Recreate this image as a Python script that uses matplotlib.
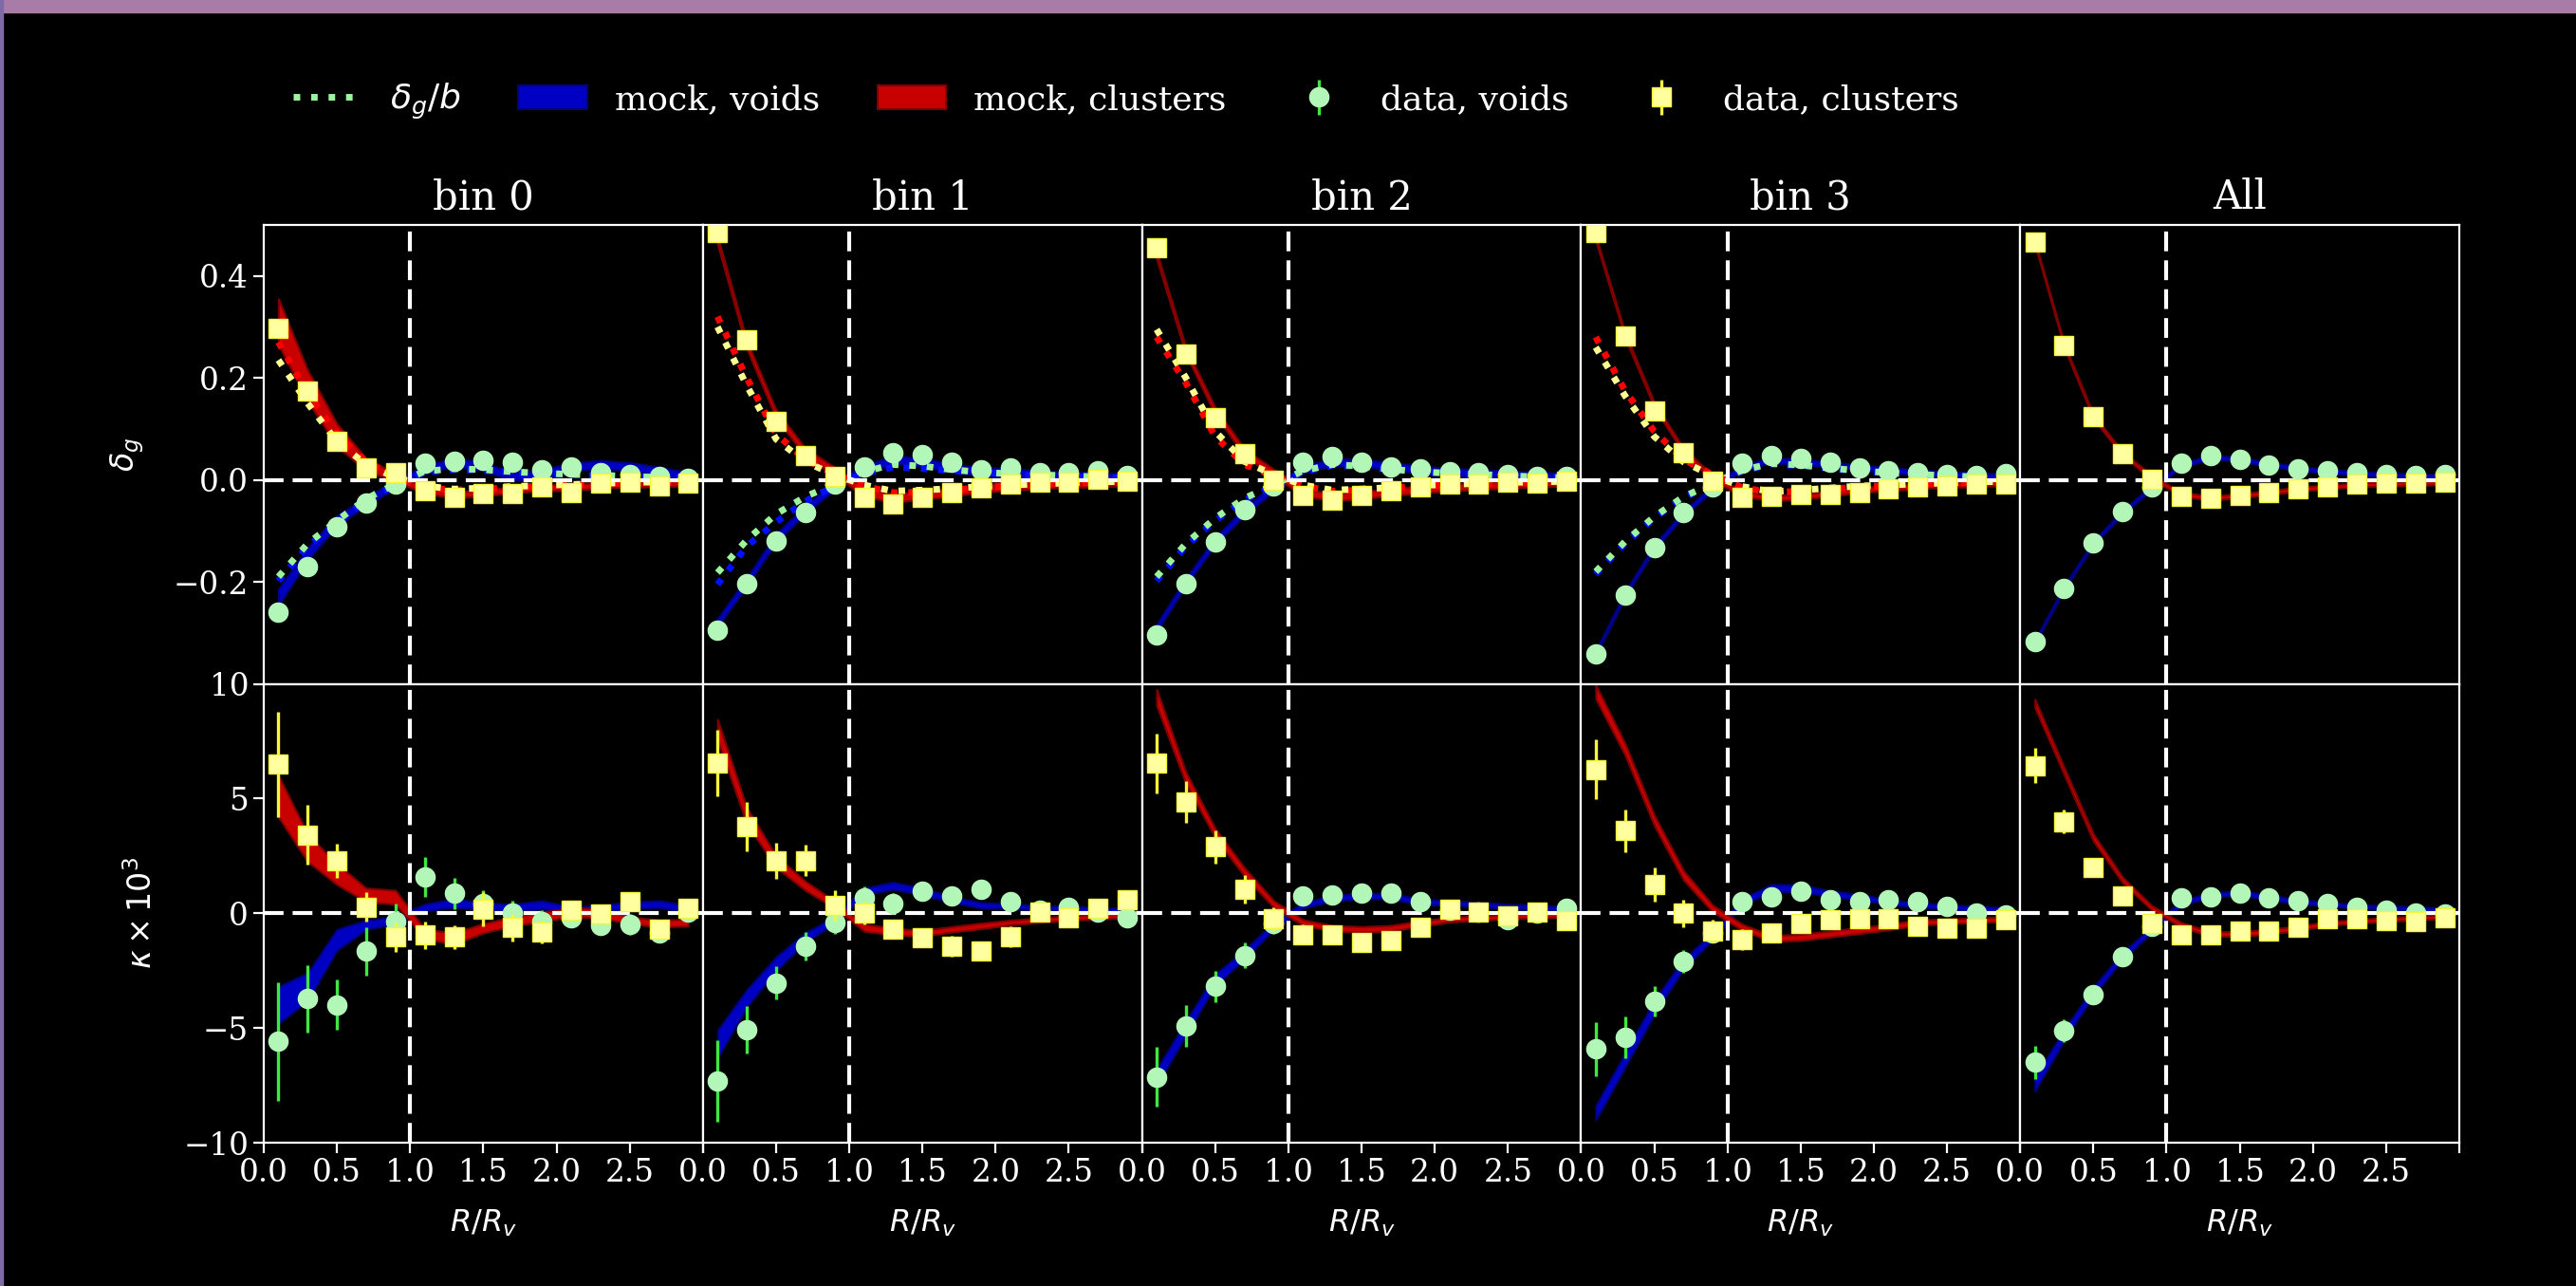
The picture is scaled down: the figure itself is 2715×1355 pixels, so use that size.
import numpy as np
import matplotlib.pyplot as plt
from matplotlib.patches import Patch, Rectangle
from matplotlib.lines import Line2D

plt.rcParams['font.family'] = 'serif'
plt.rcParams['mathtext.fontset'] = 'dejavusans'

r = [0.1, 0.3, 0.5, 0.7, 0.9, 1.1, 1.3, 1.5, 1.7, 1.9, 2.1, 2.3, 2.5, 2.7, 2.9]
titles = ['bin 0', 'bin 1', 'bin 2', 'bin 3', 'All']

# ---- top row: galaxy density profile delta_g ----
dg_voids = [
    [-0.259, -0.170, -0.092, -0.045, -0.008, 0.032, 0.037, 0.039, 0.034, 0.019, 0.025, 0.014, 0.011, 0.007, 0.003],
    [-0.294, -0.203, -0.119, -0.064, -0.008, 0.026, 0.054, 0.049, 0.035, 0.020, 0.024, 0.014, 0.014, 0.017, 0.009],
    [-0.305, -0.204, -0.121, -0.059, -0.011, 0.034, 0.045, 0.035, 0.026, 0.022, 0.016, 0.014, 0.011, 0.007, 0.007],
    [-0.341, -0.225, -0.132, -0.064, -0.014, 0.032, 0.048, 0.042, 0.034, 0.024, 0.018, 0.014, 0.011, 0.009, 0.012],
    [-0.318, -0.212, -0.124, -0.063, -0.013, 0.032, 0.047, 0.040, 0.030, 0.021, 0.018, 0.014, 0.011, 0.009, 0.011],
]
dg_clusters = [
    [0.298, 0.174, 0.076, 0.024, 0.014, -0.021, -0.034, -0.027, -0.027, -0.014, -0.025, -0.007, -0.005, -0.011, -0.007],
    [0.486, 0.275, 0.114, 0.048, 0.006, -0.034, -0.047, -0.034, -0.025, -0.016, -0.008, -0.005, -0.005, 0.001, -0.003],
    [0.455, 0.247, 0.123, 0.051, 0.000, -0.030, -0.040, -0.030, -0.021, -0.013, -0.009, -0.009, -0.005, -0.007, -0.002],
    [0.486, 0.282, 0.136, 0.054, -0.002, -0.034, -0.033, -0.028, -0.028, -0.024, -0.017, -0.013, -0.011, -0.008, -0.008],
    [0.466, 0.264, 0.124, 0.051, 0.001, -0.032, -0.037, -0.030, -0.024, -0.017, -0.013, -0.009, -0.007, -0.007, -0.005],
]
dg_voids_mock = [
    [-0.23, -0.145, -0.08, -0.042, -0.008, 0.02, 0.035, 0.026, 0.007, 0.011, 0.026, 0.03, 0.026, 0.017, 0.007],
    [-0.28, -0.2, -0.114, -0.058, -0.011, 0.02, 0.039, 0.035, 0.023, 0.017, 0.014, 0.01, 0.008, 0.006, 0.004],
    [-0.29, -0.2, -0.12, -0.062, -0.015, 0.02, 0.035, 0.033, 0.027, 0.02, 0.016, 0.013, 0.011, 0.008, 0.006],
    [-0.34, -0.225, -0.132, -0.066, -0.016, 0.025, 0.038, 0.036, 0.03, 0.025, 0.019, 0.015, 0.011, 0.009, 0.007],
    [-0.318, -0.212, -0.124, -0.063, -0.015, 0.028, 0.045, 0.04, 0.031, 0.022, 0.017, 0.013, 0.01, 0.008, 0.006],
]
dg_voids_mock_hw = [
    [0.016, 0.012, 0.01, 0.008, 0.008, 0.008, 0.008, 0.008, 0.008, 0.008, 0.008, 0.008, 0.008, 0.008, 0.008],
    0.008, 0.007, 0.005, 0.004,
]
dg_clusters_mock = [
    [0.31, 0.185, 0.088, 0.03, 0.005, -0.02, -0.03, -0.025, -0.02, -0.015, -0.015, -0.01, -0.008, -0.008, -0.006],
    [0.47, 0.265, 0.129, 0.054, 0.017, -0.024, -0.036, -0.03, -0.024, -0.017, -0.012, -0.009, -0.007, -0.005, -0.004],
    [0.44, 0.253, 0.135, 0.054, 0.014, -0.024, -0.034, -0.03, -0.024, -0.019, -0.015, -0.012, -0.009, -0.007, -0.005],
    [0.474, 0.284, 0.147, 0.057, 0.004, -0.027, -0.036, -0.033, -0.027, -0.02, -0.016, -0.012, -0.01, -0.008, -0.006],
    [0.466, 0.264, 0.124, 0.051, 0.005, -0.028, -0.036, -0.031, -0.025, -0.018, -0.014, -0.01, -0.008, -0.007, -0.005],
]
dg_clusters_mock_hw = [
    [0.045, 0.03, 0.022, 0.012, 0.008, 0.006, 0.006, 0.006, 0.006, 0.006, 0.006, 0.006, 0.006, 0.006, 0.006],
    0.008, 0.007, 0.005, 0.004,
]

# delta_g / b (dotted), no curve for the "All" panel
dgb_voids_mock = [
    [-0.198, -0.13, -0.085, -0.04, -0.01, 0.015, 0.02, 0.018, 0.015, 0.012, 0.01, 0.008, 0.006, 0.005, 0.004],
    [-0.205, -0.13, -0.083, -0.042, -0.012, 0.012, 0.025, 0.022, 0.018, 0.014, 0.011, 0.009, 0.007, 0.005, 0.004],
    [-0.198, -0.13, -0.08, -0.04, -0.012, 0.015, 0.028, 0.025, 0.02, 0.015, 0.012, 0.01, 0.008, 0.006, 0.004],
    [-0.185, -0.125, -0.075, -0.035, -0.008, 0.017, 0.03, 0.028, 0.022, 0.017, 0.013, 0.01, 0.008, 0.006, 0.004],
    None,
]
dgb_voids_data = [
    [-0.19, -0.125, -0.08, -0.037, -0.008, 0.017, 0.022, 0.02, 0.016, 0.013, 0.011, 0.009, 0.007, 0.005, 0.004],
    [-0.182, -0.118, -0.067, -0.033, -0.008, 0.016, 0.03, 0.027, 0.02, 0.015, 0.012, 0.01, 0.008, 0.006, 0.004],
    [-0.19, -0.125, -0.075, -0.036, -0.01, 0.018, 0.03, 0.027, 0.021, 0.016, 0.013, 0.011, 0.008, 0.006, 0.004],
    [-0.18, -0.121, -0.072, -0.033, -0.007, 0.019, 0.032, 0.029, 0.023, 0.018, 0.014, 0.011, 0.008, 0.006, 0.004],
    None,
]
dgb_clusters_mock = [
    [0.27, 0.17, 0.09, 0.035, 0.005, -0.015, -0.02, -0.018, -0.015, -0.012, -0.01, -0.008, -0.006, -0.005, -0.004],
    [0.32, 0.20, 0.09, 0.04, 0.012, -0.012, -0.025, -0.024, -0.02, -0.015, -0.012, -0.009, -0.007, -0.005, -0.004],
    [0.28, 0.19, 0.085, 0.03, 0.008, -0.012, -0.022, -0.02, -0.016, -0.012, -0.01, -0.008, -0.006, -0.005, -0.004],
    [0.28, 0.175, 0.095, 0.04, 0.01, -0.015, -0.025, -0.022, -0.018, -0.014, -0.011, -0.009, -0.007, -0.005, -0.004],
    None,
]
dgb_clusters_data = [
    [0.235, 0.15, 0.075, 0.03, 0.005, -0.012, -0.018, -0.016, -0.013, -0.011, -0.009, -0.007, -0.005, -0.004, -0.003],
    [0.30, 0.185, 0.08, 0.035, 0.01, -0.01, -0.022, -0.02, -0.017, -0.013, -0.01, -0.008, -0.006, -0.004, -0.003],
    [0.295, 0.2, 0.095, 0.036, 0.01, -0.01, -0.02, -0.018, -0.015, -0.011, -0.009, -0.007, -0.005, -0.004, -0.003],
    [0.26, 0.165, 0.085, 0.035, 0.008, -0.013, -0.023, -0.02, -0.016, -0.012, -0.01, -0.008, -0.006, -0.004, -0.003],
    None,
]

# ---- bottom row: lensing convergence kappa x 10^3 ----
kappa_voids = [
    [-5.59, -3.73, -3.99, -1.66, -0.36, 1.60, 0.86, 0.41, 0.01, -0.36, -0.18, -0.52, -0.47, -0.84, 0.04],
    [-7.29, -5.07, -3.04, -1.44, -0.40, 0.67, 0.41, 0.96, 0.74, 1.04, 0.49, 0.12, 0.27, 0.07, -0.18],
    [-7.14, -4.92, -3.19, -1.84, -0.43, 0.74, 0.81, 0.89, 0.89, 0.49, 0.12, 0.07, -0.28, 0.01, 0.22],
    [-5.91, -5.41, -3.84, -2.10, -0.84, 0.52, 0.71, 0.98, 0.59, 0.52, 0.59, 0.52, 0.30, 0.00, -0.07],
    [-6.50, -5.11, -3.54, -1.88, -0.58, 0.67, 0.71, 0.90, 0.67, 0.56, 0.41, 0.27, 0.12, 0.01, -0.03],
]
kappa_voids_err = [
    [2.6, 1.45, 1.1, 1.07, 0.8, 0.87, 0.67, 0.6, 0.55, 0.5, 0.4, 0.4, 0.45, 0.4, 0.4],
    [1.78, 1.04, 0.73, 0.63, 0.5, 0.5, 0.45, 0.4, 0.4, 0.4, 0.35, 0.35, 0.35, 0.3, 0.3],
    [1.3, 0.9, 0.67, 0.56, 0.45, 0.4, 0.35, 0.35, 0.35, 0.3, 0.3, 0.3, 0.3, 0.3, 0.3],
    [1.18, 0.9, 0.65, 0.5, 0.45, 0.4, 0.35, 0.35, 0.35, 0.3, 0.3, 0.3, 0.3, 0.3, 0.3],
    [0.72, 0.5, 0.4, 0.35, 0.3, 0.3, 0.25, 0.25, 0.25, 0.2, 0.2, 0.2, 0.2, 0.2, 0.2],
]
kappa_clusters = [
    [6.49, 3.41, 2.30, 0.27, -1.04, -0.95, -1.04, 0.19, -0.62, -0.80, 0.12, -0.03, 0.49, -0.70, 0.22],
    [6.56, 3.78, 2.30, 2.30, 0.34, 0.01, -0.70, -1.07, -1.44, -1.66, -1.02, 0.04, -0.18, 0.22, 0.59],
    [6.53, 4.86, 2.90, 1.05, -0.25, -0.92, -0.96, -1.26, -1.19, -0.59, 0.16, 0.04, -0.10, 0.04, -0.33],
    [6.27, 3.60, 1.26, 0.01, -0.77, -1.14, -0.84, -0.43, -0.28, -0.22, -0.22, -0.55, -0.67, -0.67, -0.28],
    [6.44, 4.00, 2.00, 0.74, -0.44, -0.92, -0.92, -0.77, -0.77, -0.59, -0.22, -0.22, -0.33, -0.36, -0.18],
]
kappa_clusters_err = [
    [2.3, 1.3, 0.75, 0.65, 0.65, 0.6, 0.5, 0.75, 0.6, 0.5, 0.4, 0.4, 0.4, 0.4, 0.4],
    [1.45, 1.07, 0.78, 0.68, 0.67, 0.5, 0.4, 0.4, 0.45, 0.4, 0.45, 0.3, 0.3, 0.35, 0.35],
    [1.3, 0.9, 0.73, 0.63, 0.5, 0.45, 0.4, 0.4, 0.35, 0.35, 0.3, 0.3, 0.3, 0.3, 0.3],
    [1.3, 0.93, 0.74, 0.6, 0.5, 0.45, 0.4, 0.35, 0.35, 0.35, 0.3, 0.3, 0.3, 0.3, 0.3],
    [0.76, 0.53, 0.4, 0.35, 0.3, 0.3, 0.25, 0.25, 0.25, 0.2, 0.2, 0.2, 0.2, 0.2, 0.2],
]
kappa_voids_mock = [
    [-4.0, -3.2, -1.15, -0.5, -0.3, 0.25, 0.45, 0.3, 0.25, 0.37, 0.15, 0.2, 0.35, 0.4, 0.2],
    [-5.7, -3.7, -2.2, -1.05, -0.3, 0.95, 1.2, 0.95, 0.6, 0.35, 0.3, 0.25, 0.2, 0.15, 0.1],
    [-7.15, -5.0, -2.9, -1.8, -0.55, 0.35, 0.65, 0.75, 0.75, 0.5, 0.45, 0.38, 0.3, 0.25, 0.2],
    [-8.7, -6.4, -4.1, -2.2, -1.0, 0.5, 1.1, 1.1, 0.85, 0.7, 0.5, 0.35, 0.28, 0.2, 0.15],
    [-7.45, -5.3, -3.4, -1.85, -0.7, 0.45, 0.8, 0.88, 0.7, 0.5, 0.4, 0.3, 0.25, 0.2, 0.15],
]
kappa_voids_mock_hw = [
    [0.8, 0.6, 0.45, 0.2, 0.15, 0.15, 0.18, 0.15, 0.15, 0.18, 0.12, 0.15, 0.15, 0.15, 0.15],
    [0.6, 0.37, 0.3, 0.2, 0.15, 0.15, 0.15, 0.15, 0.12, 0.12, 0.1, 0.1, 0.1, 0.1, 0.1],
    [0.35, 0.3, 0.25, 0.2, 0.15, 0.12, 0.12, 0.12, 0.12, 0.12, 0.1, 0.1, 0.1, 0.1, 0.1],
    [0.3, 0.3, 0.3, 0.2, 0.15, 0.15, 0.15, 0.15, 0.13, 0.12, 0.1, 0.1, 0.1, 0.1, 0.1],
    [0.3, 0.22, 0.18, 0.15, 0.12, 0.1, 0.1, 0.1, 0.1, 0.1, 0.08, 0.08, 0.08, 0.08, 0.08],
]
kappa_clusters_mock = [
    [5.1, 2.85, 1.7, 0.8, 0.7, -0.9, -1.1, -0.65, -0.35, -0.15, 0.05, 0.0, -0.3, -0.45, -0.4],
    [8.0, 4.25, 2.25, 1.2, 0.38, -0.62, -0.8, -0.87, -0.7, -0.55, -0.4, -0.3, -0.2, -0.15, -0.1],
    [9.4, 5.9, 3.5, 1.8, 0.4, -0.4, -0.65, -0.7, -0.65, -0.45, -0.28, -0.2, -0.15, -0.1, -0.07],
    [9.65, 7.15, 4.05, 1.65, 0.2, -0.6, -1.1, -1.05, -0.9, -0.75, -0.6, -0.4, -0.35, -0.3, -0.25],
    [9.15, 6.2, 3.3, 1.45, 0.23, -0.5, -0.9, -0.9, -0.8, -0.65, -0.45, -0.35, -0.27, -0.2, -0.15],
]
kappa_clusters_mock_hw = [
    [0.9, 0.6, 0.45, 0.3, 0.3, 0.2, 0.25, 0.2, 0.2, 0.2, 0.2, 0.2, 0.15, 0.15, 0.15],
    [0.45, 0.35, 0.25, 0.2, 0.15, 0.15, 0.15, 0.12, 0.12, 0.12, 0.1, 0.1, 0.1, 0.1, 0.1],
    [0.35, 0.25, 0.2, 0.18, 0.15, 0.12, 0.12, 0.12, 0.12, 0.12, 0.1, 0.1, 0.1, 0.1, 0.1],
    [0.3, 0.25, 0.22, 0.2, 0.15, 0.13, 0.13, 0.13, 0.13, 0.13, 0.12, 0.12, 0.1, 0.1, 0.1],
    [0.18, 0.15, 0.15, 0.12, 0.1, 0.1, 0.1, 0.1, 0.1, 0.1, 0.08, 0.08, 0.08, 0.08, 0.08],
]

# colours
c_void_fill, c_void_edge = '#0000c4', '#000080'
c_clus_fill, c_clus_edge = '#c80000', '#800000'
c_void_pt, c_void_bar = '#b3f7b8', '#3ee83e'
c_clus_pt, c_clus_bar = '#ffffa0', '#f5f53a'
c_void_dot_mock, c_clus_dot_mock = '#0010ff', '#ff0000'
c_void_dot_data, c_clus_dot_data = '#9cf59c', '#ffff90'

fig, axes = plt.subplots(2, 5, figsize=(27.15, 13.55), dpi=100, sharex=True)
fig.patch.set_facecolor('black')
fig.subplots_adjust(left=0.1024, right=0.9547, top=0.8251, bottom=0.1114, wspace=0, hspace=0)

x = np.array(r)
ms = 14.5
for i in range(5):
    top, bot = axes[0, i], axes[1, i]

    # top row
    m = np.array(dg_voids_mock[i]); h = np.array(dg_voids_mock_hw[i])
    top.fill_between(x, m - h, m + h, facecolor=c_void_fill, edgecolor=c_void_edge, lw=1.5, zorder=2)
    m = np.array(dg_clusters_mock[i]); h = np.array(dg_clusters_mock_hw[i])
    top.fill_between(x, m - h, m + h, facecolor=c_clus_fill, edgecolor=c_clus_edge, lw=1.5, zorder=2)
    if dgb_voids_mock[i] is not None:
        top.plot(x, dgb_voids_mock[i], ls=':', lw=5, color=c_void_dot_mock, zorder=3)
        top.plot(x, dgb_voids_data[i], ls=':', lw=5, color=c_void_dot_data, zorder=3)
        top.plot(x, dgb_clusters_mock[i], ls=':', lw=5, color=c_clus_dot_mock, zorder=3)
        top.plot(x, dgb_clusters_data[i], ls=':', lw=5, color=c_clus_dot_data, zorder=3)
    top.plot(x, dg_voids[i], 'o', ms=ms, color=c_void_pt, mec=c_void_pt, zorder=5)
    top.plot(x, dg_clusters[i], 's', ms=ms, color=c_clus_pt, mec=c_clus_bar, mew=1, zorder=6)
    top.set_ylim(-0.4, 0.5)
    top.set_yticks([-0.2, 0.0, 0.2, 0.4])
    top.set_title(titles[i], color='white', fontsize=30, pad=12)
    top.tick_params(bottom=False)

    # bottom row
    m = np.array(kappa_voids_mock[i]); h = np.array(kappa_voids_mock_hw[i])
    bot.fill_between(x, m - h, m + h, facecolor=c_void_fill, edgecolor=c_void_edge, lw=1.5, zorder=2)
    m = np.array(kappa_clusters_mock[i]); h = np.array(kappa_clusters_mock_hw[i])
    bot.fill_between(x, m - h, m + h, facecolor=c_clus_fill, edgecolor=c_clus_edge, lw=1.5, zorder=2)
    ev = bot.errorbar(x, kappa_voids[i], yerr=kappa_voids_err[i], fmt='o', ms=ms, color=c_void_pt,
                      mec=c_void_pt, ecolor=c_void_bar, elinewidth=2.4, capsize=0, zorder=5)
    ec = bot.errorbar(x, kappa_clusters[i], yerr=kappa_clusters_err[i], fmt='s', ms=ms, color=c_clus_pt,
                      mec=c_clus_bar, mew=1, ecolor=c_clus_bar, elinewidth=2.4, capsize=0, zorder=6)
    bot.set_ylim(-10, 10)
    bot.set_yticks([-10, -5, 0, 5, 10])
    bot.set_xlabel(r'$R/R_v$', color='white', fontsize=23, labelpad=15)

    for ax in (top, bot):
        ax.set_facecolor('black')
        ax.axhline(0, color='white', lw=3, dashes=(5, 2.3), zorder=4)
        ax.axvline(1, color='white', lw=3, dashes=(5, 2.3), zorder=4)
        for sp in ax.spines.values():
            sp.set_color('white')
            sp.set_linewidth(1.6)
        ax.tick_params(colors='white', labelsize=23.5, length=8, width=1.6, direction='out')
        if i > 0:
            ax.tick_params(left=False, labelleft=False)
    if i == 0:
        handle_void, handle_clus = ev, ec

for ax in axes[1]:
    ax.set_xlim(0, 3)
    ax.set_xticks([0, 0.5, 1.0, 1.5, 2.0, 2.5, 3.0])
    ax.set_xticklabels(['0.0', '0.5', '1.0', '1.5', '2.0', '2.5', ''])

axes[0, 0].set_ylabel(r'$\delta_g$', color='white', fontsize=24)
axes[1, 0].set_ylabel(r'$\kappa\times10^3$', color='white', fontsize=24)
axes[0, 0].yaxis.set_label_coords(-0.268, 0.5)
axes[1, 0].yaxis.set_label_coords(-0.24, 0.5)

handles = [
    Line2D([], [], ls=':', lw=5, color=c_void_dot_data),
    Patch(facecolor=c_void_fill, edgecolor=c_void_edge, lw=1.5),
    Patch(facecolor=c_clus_fill, edgecolor=c_clus_edge, lw=1.5),
    handle_void,
    handle_clus,
]
labels = [r'$\delta_g/b$', 'mock, voids', 'mock, clusters', 'data, voids', 'data, clusters']
fig.legend(handles, labels, loc='center left', bbox_to_anchor=(0.102, 0.921), ncol=5,
           frameon=False, fontsize=26, labelcolor='white', handlelength=2.0, columnspacing=1.7)

# thin coloured frame along the top and left edge
fig.patches.append(Rectangle((0, 1 - 13 / 1355), 1, 13 / 1355, transform=fig.transFigure,
                             color='#a97ca8', zorder=10))
fig.patches.append(Rectangle((0, 0), 3 / 2715, 1, transform=fig.transFigure,
                             color='#7d6aa6', zorder=10))

fig.savefig('out.png', dpi=100, facecolor='black')
